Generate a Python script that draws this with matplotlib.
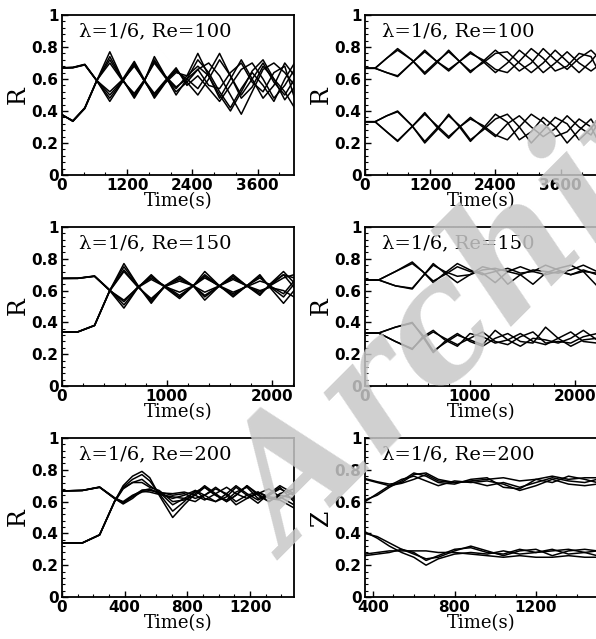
import matplotlib
matplotlib.use('Agg')
import matplotlib.pyplot as plt
from matplotlib.ticker import MultipleLocator, FuncFormatter

# ---------------- data ----------------
# top-left : lambda=1/6, Re=100, R
t_a = [0, 200, 420, 640, 880, 1110, 1330, 1510, 1700, 1900, 2100,
       2300, 2500, 2700, 2900, 3100, 3300, 3500, 3700, 3900, 4100, 4280]
r_a = [
    [.670, .672, .690, .590, .460, .580, .700, .590, .490, .580, .660, .580, .500, .600, .720, .620, .480, .550, .680, .600, .470, .550],
    [.668, .670, .688, .588, .480, .585, .690, .590, .500, .585, .650, .600, .540, .640, .760, .620, .500, .600, .700, .580, .500, .600],
    [.670, .673, .692, .592, .500, .590, .680, .595, .510, .590, .670, .560, .620, .540, .460, .560, .660, .700, .600, .480, .560, .660],
    [.669, .671, .689, .590, .520, .595, .710, .600, .480, .575, .640, .620, .680, .620, .500, .400, .520, .650, .720, .600, .520, .420],
    [.375, .340, .420, .590, .770, .600, .480, .580, .740, .620, .500, .600, .720, .640, .520, .420, .540, .640, .560, .460, .600, .700],
    [.378, .335, .415, .588, .740, .600, .490, .585, .720, .615, .520, .580, .660, .700, .620, .500, .380, .520, .660, .700, .640, .560],
    [.376, .338, .418, .590, .720, .595, .500, .590, .700, .610, .540, .620, .760, .620, .480, .600, .720, .600, .480, .560, .700, .620],
    [.377, .336, .420, .592, .700, .590, .510, .590, .710, .620, .550, .600, .660, .560, .540, .640, .700, .580, .520, .640, .680, .480],
]

# top-right : lambda=1/6, Re=100, R
t_b = [0, 185, 400, 600, 860, 1100, 1320, 1540, 1740, 1940, 2170,
       2400, 2620, 2840, 3060, 3280, 3500, 3720, 3940, 4160, 4280]
r_b = [
    [.667, .667, .73, .79, .72, .63, .70, .78, .71, .64, .71, .78, .72, .65, .70, .79, .72, .66, .73, .78, .74],
    [.667, .667, .64, .615, .70, .78, .71, .65, .71, .77, .71, .64, .70, .78, .72, .64, .70, .77, .70, .65, .68],
    [.667, .667, .73, .78, .72, .64, .71, .77, .71, .65, .70, .76, .77, .70, .64, .70, .78, .71, .64, .71, .76],
    [.667, .667, .64, .62, .70, .77, .71, .66, .71, .76, .72, .66, .64, .71, .79, .73, .65, .68, .76, .74, .66],
    [.333, .333, .37, .40, .31, .20, .28, .38, .30, .21, .29, .38, .33, .22, .27, .36, .30, .20, .28, .35, .28],
    [.333, .333, .27, .21, .30, .39, .30, .23, .30, .36, .30, .24, .32, .37, .30, .24, .29, .37, .30, .25, .32],
    [.333, .333, .37, .395, .31, .21, .29, .37, .31, .22, .28, .35, .38, .30, .20, .28, .36, .32, .22, .29, .35],
    [.333, .333, .27, .215, .30, .38, .31, .24, .30, .35, .31, .25, .22, .30, .38, .33, .24, .27, .35, .30, .22],
]

# middle-left : lambda=1/6, Re=150, R
t_c = [0, 150, 310, 455, 590, 725, 850, 980, 1120, 1250, 1360,
       1500, 1630, 1760, 1885, 1980, 2110, 2210]
r_c = [
    [.677, .677, .690, .600, .490, .620, .700, .620, .550, .630, .720, .630, .560, .630, .700, .620, .520, .600],
    [.677, .678, .692, .605, .510, .620, .690, .625, .560, .630, .700, .630, .570, .630, .690, .625, .560, .640],
    [.676, .677, .690, .602, .530, .625, .680, .630, .570, .630, .690, .625, .580, .630, .680, .630, .580, .660],
    [.677, .677, .691, .600, .540, .620, .670, .625, .590, .630, .680, .630, .590, .625, .660, .640, .700, .620],
    [.340, .340, .380, .600, .770, .630, .520, .630, .690, .630, .540, .630, .700, .630, .570, .640, .720, .650],
    [.340, .341, .382, .602, .750, .630, .530, .625, .680, .630, .560, .630, .690, .630, .580, .630, .700, .680],
    [.339, .340, .380, .600, .730, .625, .540, .630, .670, .630, .570, .630, .680, .630, .590, .630, .680, .700],
    [.340, .340, .381, .598, .720, .620, .550, .625, .660, .630, .590, .630, .670, .630, .600, .620, .600, .560],
]

# middle-right : lambda=1/6, Re=150, R
t_d = [0, 130, 290, 450, 550, 650, 760, 880, 1000, 1120, 1240,
       1360, 1480, 1600, 1720, 1840, 1960, 2080, 2210]
r_d = [
    [.667, .667, .72, .78, .72, .65, .71, .77, .73, .70, .72, .74, .71, .72, .76, .73, .70, .72, .71],
    [.667, .667, .63, .61, .69, .77, .71, .65, .70, .75, .73, .64, .70, .73, .72, .71, .73, .76, .72],
    [.667, .667, .72, .77, .72, .66, .70, .75, .72, .71, .65, .72, .75, .72, .70, .72, .70, .73, .70],
    [.667, .667, .63, .615, .69, .76, .72, .69, .70, .73, .74, .72, .70, .64, .71, .74, .76, .72, .63],
    [.333, .333, .37, .40, .31, .21, .28, .33, .28, .25, .30, .33, .28, .27, .37, .30, .25, .29, .30],
    [.333, .333, .28, .23, .31, .35, .29, .25, .33, .31, .27, .29, .33, .28, .26, .30, .34, .28, .27],
    [.333, .333, .37, .395, .32, .22, .27, .32, .29, .26, .35, .29, .25, .30, .29, .27, .30, .35, .29],
    [.333, .333, .28, .235, .30, .34, .30, .26, .30, .34, .28, .26, .31, .34, .27, .28, .27, .31, .33],
]

# bottom-left : lambda=1/6, Re=200, R
t_e = [0, 130, 240, 335, 390, 450, 510, 560, 620, 706, 780,
       850, 910, 980, 1050, 1110, 1180, 1250, 1320, 1390, 1480]
r_e = [
    [.667, .670, .690, .620, .585, .620, .670, .680, .650, .620, .640, .670, .620, .600, .650, .700, .650, .610, .640, .680, .640],
    [.667, .671, .692, .625, .595, .630, .660, .670, .660, .640, .650, .620, .640, .680, .650, .600, .640, .660, .630, .620, .660],
    [.667, .670, .690, .622, .600, .640, .665, .660, .645, .630, .620, .660, .690, .640, .600, .640, .700, .640, .600, .650, .680],
    [.667, .670, .691, .620, .590, .635, .672, .675, .655, .650, .660, .640, .610, .650, .690, .650, .620, .650, .680, .630, .580],
    [.340, .340, .390, .600, .700, .760, .790, .750, .640, .500, .580, .650, .700, .650, .600, .640, .700, .650, .600, .640, .620],
    [.340, .341, .392, .602, .690, .740, .770, .730, .650, .540, .600, .670, .640, .600, .630, .690, .640, .590, .650, .700, .650],
    [.340, .340, .390, .598, .680, .720, .740, .700, .660, .580, .620, .600, .640, .690, .640, .580, .620, .660, .620, .610, .560],
    [.340, .340, .391, .600, .685, .720, .720, .690, .670, .600, .610, .640, .690, .640, .610, .660, .690, .620, .640, .690, .600],
]

# bottom-right : lambda=1/6, Re=200, Z
t_f = [360, 420, 480, 540, 600, 660, 720, 800, 880, 960, 1040,
       1120, 1200, 1280, 1360, 1440, 1500]
z_f = [
    [.745, .725, .710, .720, .770, .780, .740, .720, .730, .740, .750, .730, .740, .760, .740, .750, .750],
    [.740, .720, .700, .715, .740, .770, .730, .720, .725, .700, .720, .690, .720, .750, .730, .720, .740],
    [.600, .650, .700, .740, .760, .730, .700, .730, .720, .730, .710, .670, .700, .740, .710, .700, .710],
    [.610, .640, .690, .730, .780, .760, .720, .710, .740, .750, .690, .680, .740, .720, .760, .740, .720],
    [.410, .370, .320, .280, .250, .200, .240, .270, .280, .270, .290, .270, .280, .300, .270, .280, .260],
    [.400, .380, .340, .300, .270, .240, .250, .290, .320, .290, .260, .290, .300, .260, .290, .300, .290],
    [.270, .280, .290, .290, .290, .290, .280, .280, .270, .260, .250, .260, .250, .250, .260, .250, .250],
    [.260, .270, .280, .300, .280, .230, .260, .300, .310, .280, .270, .300, .280, .290, .300, .280, .290],
]

titles = ['λ=1/6, Re=100', 'λ=1/6, Re=100',
          'λ=1/6, Re=150', 'λ=1/6, Re=150',
          'λ=1/6, Re=200', 'λ=1/6, Re=200']
ylabels = ['R', 'R', 'R', 'R', 'R', 'Z']

# ---------------- figure ----------------
W, H = 596, 639
fig = plt.figure(figsize=(W / 100, H / 100), dpi=100)

def box(x0, x1, ytop, ybot):
    return [x0 / W, 1 - ybot / H, (x1 - x0) / W, (ybot - ytop) / H]

rows = [(15, 175), (227, 386), (438, 597)]
cols = [(62, 294), (365, 597)]

panels = [
    (t_a, r_a, (0, 4270), 1200, 400),
    (t_b, r_b, (0, 4270), 1200, 400),
    (t_c, r_c, (0, 2210), 1000, 200),
    (t_d, r_d, (0, 2210), 1000, 200),
    (t_e, r_e, (0, 1480), 400, 100),
    (t_f, z_f, (360, 1500), 400, 100),
]

serif = 'DejaVu Serif'
for i, (t, curves, xlim, major, minor) in enumerate(panels):
    r, c = divmod(i, 2)
    ax = fig.add_axes(box(cols[c][0], cols[c][1], rows[r][0], rows[r][1]))
    for y in curves:
        ax.plot(t, y, color='black', lw=1.1)
    ax.set_xlim(*xlim)
    ax.set_ylim(0, 1)
    ax.xaxis.set_major_locator(MultipleLocator(major))
    ax.xaxis.set_minor_locator(MultipleLocator(minor))
    ax.yaxis.set_major_locator(MultipleLocator(0.2))
    ax.yaxis.set_minor_locator(MultipleLocator(0.04))
    ax.yaxis.set_major_formatter(FuncFormatter(lambda v, p: '%g' % round(v, 2)))
    ax.tick_params(which='both', direction='in', top=False, right=False,
                   labelsize=11, pad=2.5)
    ax.tick_params(which='major', length=4, width=1)
    ax.tick_params(which='minor', length=2, width=0.8)
    for lab in ax.get_xticklabels() + ax.get_yticklabels():
        lab.set_fontweight('bold')
    for sp in ax.spines.values():
        sp.set_linewidth(1.3)
    ax.set_xlabel('Time(s)', family=serif, fontsize=13, labelpad=-1)
    ax.set_ylabel(ylabels[i], family=serif, fontsize=17, labelpad=1)
    ax.text(0.075, 0.895, titles[i], transform=ax.transAxes, family=serif,
            fontsize=14, va='center', ha='left')

# watermark
fig.text(290 / W, 1 - 561 / H, 'Archive', rotation=45, rotation_mode='anchor',
         ha='left', va='baseline', fontsize=118, family='DejaVu Serif',
         fontweight='bold', style='italic', color='#c8c8c8', alpha=0.85)

fig.savefig('out.png', dpi=100)
